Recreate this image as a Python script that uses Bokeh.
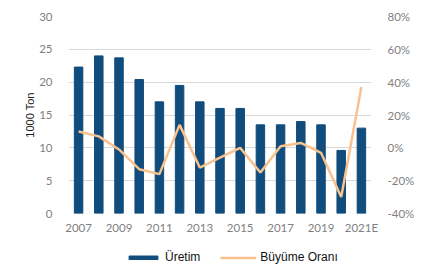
from bokeh.plotting import figure
from bokeh.models import (Range1d, LinearAxis, ColumnDataSource, Legend, LegendItem,
                          PrintfTickFormatter, FixedTicker)
from bokeh.layouts import column
from bokeh.embed import file_html
from bokeh.resources import INLINE

years = ["2007", "2008", "2009", "2010", "2011", "2012", "2013", "2014", "2015",
         "2016", "2017", "2018", "2019", "2020", "2021E"]
uretim = [22.3, 24.0, 23.7, 20.4, 17.0, 19.5, 17.0, 16.0, 16.0, 13.5, 13.5, 14.0, 13.5, 9.6, 13.0]
buyume = [10, 7, -1, -13, -16, 14, -12, -6, 0, -15, 1, 3, -3, -30, 37]

idx = list(range(len(years)))
src = ColumnDataSource(dict(x=idx, u=uretim, g=buyume))

p = figure(width=417, height=236, x_range=Range1d(-0.5, len(years) - 0.5),
           y_range=Range1d(0, 30), output_backend="svg", toolbar_location=None,
           min_border_left=68, min_border_right=45, min_border_top=16, min_border_bottom=22)
p.extra_y_ranges = {"pct": Range1d(-40, 80)}
p.outline_line_color = None

bars = p.vbar(x="x", top="u", width=0.42, source=src, color="#104C7C")
line = p.line(x="x", y="g", source=src, y_range_name="pct", line_color="#F7C28D", line_width=2.5)

tick_font = "Lato"
tick_color = "#7f7f7f"

p.yaxis.ticker = FixedTicker(ticks=[0, 5, 10, 15, 20, 25, 30])
p.yaxis.axis_label = "1000 Ton"
p.yaxis.axis_label_text_font = "Liberation Sans"
p.yaxis.axis_label_text_font_style = "normal"
p.yaxis.axis_label_text_font_size = "11px"
p.yaxis.axis_label_text_color = "#222222"
p.yaxis.axis_label_standoff = 0

right = LinearAxis(y_range_name="pct", ticker=FixedTicker(ticks=[-40, -20, 0, 20, 40, 60, 80]),
                   formatter=PrintfTickFormatter(format="%d%%"))
p.add_layout(right, "right")

p.xaxis.ticker = FixedTicker(ticks=idx[::2])
p.xaxis.major_label_overrides = {i: years[i] for i in idx[::2]}

for ax in [p.yaxis[0], right, p.xaxis[0]]:
    ax.axis_line_color = None
    ax.major_tick_line_color = None
    ax.minor_tick_line_color = None
    ax.major_label_text_font = tick_font
    ax.major_label_text_font_size = "11.5px"
    ax.major_label_text_color = tick_color
p.yaxis[0].major_label_standoff = 10
right.major_label_standoff = 10
p.xaxis.major_label_standoff = 1

p.xgrid.grid_line_color = None
p.ygrid.grid_line_color = "#d9d9d9"
p.ygrid.grid_line_width = 1

# legend strip: its own copies of the glyphs, kept out of view
lg = figure(width=417, height=28, x_range=Range1d(-0.5, len(years) - 0.5),
            y_range=Range1d(1000, 1001), output_backend="svg", toolbar_location=None,
            min_border=0)
lg.axis.visible = False
lg.grid.visible = False
lg.outline_line_color = None
lbars = lg.vbar(x="x", top="u", width=0.42, source=src, color="#104C7C")
lline = lg.line(x="x", y="g", source=src, line_color="#F7C28D", line_width=2.5)

legend = Legend(items=[LegendItem(label="Üretim", renderers=[lbars]),
                       LegendItem(label="Büyüme Oranı", renderers=[lline])],
                orientation="horizontal", location=(57, 0),
                label_text_font="Liberation Sans", label_text_font_size="12px",
                label_text_color="#111111", glyph_width=36, glyph_height=5,
                spacing=20, label_standoff=4, border_line_color=None,
                background_fill_alpha=0, padding=2, margin=0)
lg.add_layout(legend, "center")

layout = column(p, lg, spacing=0)
open("out.html", "w").write(file_html(layout, INLINE))
